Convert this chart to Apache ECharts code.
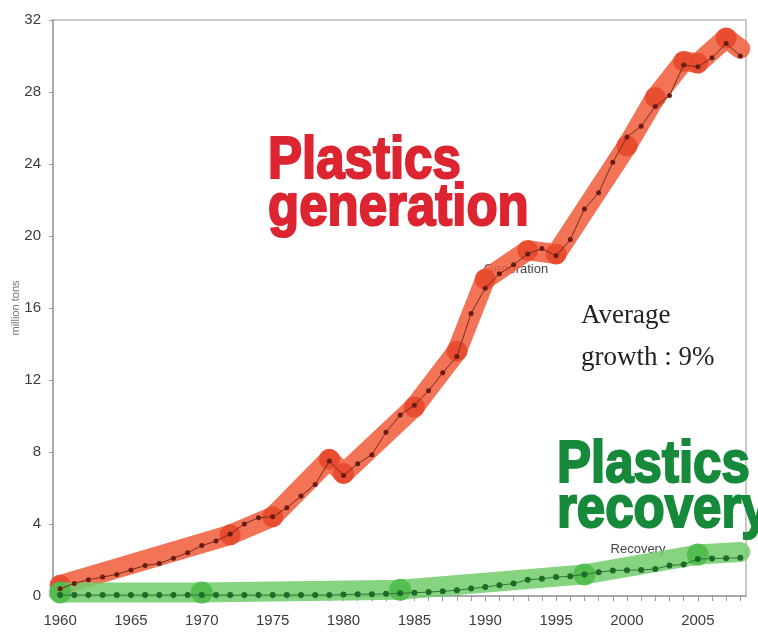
<!DOCTYPE html>
<html>
<head>
<meta charset="utf-8">
<script src="https://cdn.jsdelivr.net/npm/echarts@6/dist/echarts.min.js"></script>
<style>
  html, body { margin: 0; padding: 0; background: #fff; }
  #chart { width: 758px; height: 633px; }
</style>
</head>
<body>
<div id="chart"></div>
<script>
// Years of the annual series
var years = [];
for (var y = 1960; y <= 2008; y++) years.push(y);

// Annual plastics generation, million tons (1960-2008)
var generation = [
  0.4, 0.7, 0.9, 1.05, 1.2, 1.45, 1.7, 1.8, 2.1, 2.4,
  2.8, 3.05, 3.45, 4.0, 4.35, 4.4, 4.9, 5.55, 6.2, 7.5,
  6.7, 7.35, 7.85, 9.1, 10.05, 10.6, 11.4, 12.4, 13.3, 15.7,
  17.1, 17.9, 18.4, 19.0, 19.3, 18.9, 19.8, 21.5, 22.4, 24.1,
  25.5, 26.1, 27.2, 27.8, 29.5, 29.4, 29.9, 30.7, 30.0
];

// Annual plastics recovery, million tons (1960-2008)
var recovery = [
  0.05, 0.05, 0.05, 0.05, 0.05, 0.05, 0.05, 0.05, 0.05, 0.05,
  0.05, 0.05, 0.05, 0.05, 0.05, 0.05, 0.05, 0.05, 0.05, 0.05,
  0.08, 0.1, 0.1, 0.12, 0.15, 0.18, 0.22, 0.26, 0.32, 0.41,
  0.5, 0.6, 0.69, 0.9, 0.96, 1.05, 1.1, 1.2, 1.32, 1.42,
  1.43, 1.45, 1.5, 1.7, 1.75, 2.05, 2.08, 2.1, 2.12
];

// Broad trend band for generation (survey years)
var genBandYears  = [1960, 1972, 1975, 1979, 1980, 1985, 1988, 1990, 1993, 1995, 2000, 2002, 2004, 2005, 2007, 2008];
var genBandValues = [0.6, 3.4, 4.4, 7.6, 6.8, 10.5, 13.6, 17.6, 19.2, 19.0, 25.0, 27.7, 29.7, 29.6, 31.0, 30.4];

// Broad trend band for recovery
var recBandYears  = [1960, 1970, 1984, 1997, 2005, 2008];
var recBandValues = [0.2, 0.2, 0.35, 1.2, 2.3, 2.45];

// Axis ticks
var xLabelYears = [1960, 1965, 1970, 1975, 1980, 1985, 1990, 1995, 2000, 2005];

function pairs(xs, vs) {
  return xs.map(function (x, i) { return [x, vs[i]]; });
}
function bandSymbol(n) {
  return function (v, p) { return p.dataIndex === n - 1 ? 'none' : 'circle'; };
}

var tickFont = '"Liberation Sans", Arial, sans-serif';
var headFont = 'bold 60px "Liberation Sans", Arial, sans-serif';

function headline(text, x, y, color) {
  return {
    type: 'text', x: x, y: y, scaleX: 0.85, z: 10,
    style: {
      text: text, fill: color, stroke: color, lineWidth: 2.2, font: headFont,
      align: 'left', verticalAlign: 'middle'
    }
  };
}

var chart = echarts.init(document.getElementById('chart'), null, { renderer: 'canvas' });

chart.setOption({
  animation: false,
  backgroundColor: '#ffffff',
  grid: {
    left: 53, right: 12, top: 20, bottom: 37,
    show: true, borderColor: '#b8b8b8', borderWidth: 1.5, backgroundColor: 'transparent'
  },
  xAxis: {
    type: 'value',
    min: 1959.5,
    max: 2008.4,
    axisLine: { show: true, lineStyle: { color: '#a0a0a0', width: 1.5 } },
    axisTick: {
      show: true, length: 5, customValues: years,
      lineStyle: { color: '#9a9a9a', width: 1 }
    },
    axisLabel: {
      customValues: xLabelYears, margin: 17,
      color: '#3c3c3c', fontSize: 15, fontFamily: tickFont,
      formatter: function (v) { return String(v); }
    },
    splitLine: { show: false }
  },
  yAxis: {
    type: 'value',
    min: 0, max: 32, interval: 4,
    name: 'million tons',
    nameLocation: 'middle',
    nameGap: 32,
    nameMoveOverlap: false,
    nameTextStyle: { color: '#777', fontSize: 11, fontFamily: 'Liberation Sans, Arial, sans-serif' },
    axisLine: { show: true, lineStyle: { color: '#a0a0a0', width: 1.5 } },
    axisTick: { show: true, length: 4, lineStyle: { color: '#9a9a9a' } },
    axisLabel: {
      margin: 12, color: '#3c3c3c', fontSize: 15, fontFamily: tickFont
    },
    splitLine: { show: false }
  },
  graphic: [
    // small series captions, sitting beneath the bands
    { type: 'text', x: 516, y: 269, z: 0,
      style: { text: 'Generation', fill: '#444', font: '13px "Liberation Sans", Arial, sans-serif',
               align: 'center', verticalAlign: 'middle' } },
    { type: 'text', x: 638, y: 549, z: 0,
      style: { text: 'Recovery', fill: '#444', font: '13px "Liberation Sans", Arial, sans-serif',
               align: 'center', verticalAlign: 'middle' } },
    // headline annotations
    headline('Plastics', 268, 161, '#dc2530'),
    headline('generation', 268, 208, '#dc2530'),
    headline('Plastics', 557, 465, '#168a3a'),
    headline('recovery', 557, 510, '#168a3a'),
    { type: 'text', x: 581, y: 316, z: 10,
      style: { text: 'Average', fill: '#222', font: '27px "Liberation Serif", "Times New Roman", serif',
               align: 'left', verticalAlign: 'middle' } },
    { type: 'text', x: 581, y: 358, z: 10,
      style: { text: 'growth : 9%', fill: '#222', font: '27px "Liberation Serif", "Times New Roman", serif',
               align: 'left', verticalAlign: 'middle' } }
  ],
  series: [
    {
      name: 'Generation band',
      type: 'line',
      data: pairs(genBandYears, genBandValues),
      symbol: bandSymbol(genBandYears.length),
      symbolSize: 21,
      itemStyle: { color: '#e8492c', opacity: 0.9 },
      lineStyle: { color: '#f0603f', width: 20, opacity: 0.88, cap: 'round', join: 'round' },
      z: 2
    },
    {
      name: 'Recovery band',
      type: 'line',
      data: pairs(recBandYears, recBandValues),
      symbol: bandSymbol(recBandYears.length),
      symbolSize: 22,
      itemStyle: { color: '#4fbb4a', opacity: 0.9 },
      lineStyle: { color: '#72cc6a', width: 20, opacity: 0.85, cap: 'round', join: 'round' },
      z: 3
    },
    {
      name: 'Generation',
      type: 'line',
      data: pairs(years, generation),
      symbol: 'circle',
      symbolSize: 5,
      itemStyle: { color: '#6a1c12' },
      lineStyle: { color: '#7a2a1c', width: 1 },
      z: 4
    },
    {
      name: 'Recovery',
      type: 'line',
      data: pairs(years, recovery),
      symbol: 'circle',
      symbolSize: 6,
      itemStyle: { color: '#1e6a2a' },
      lineStyle: { color: '#2a7a34', width: 1 },
      z: 5
    }
  ]
});
</script>
</body>
</html>
